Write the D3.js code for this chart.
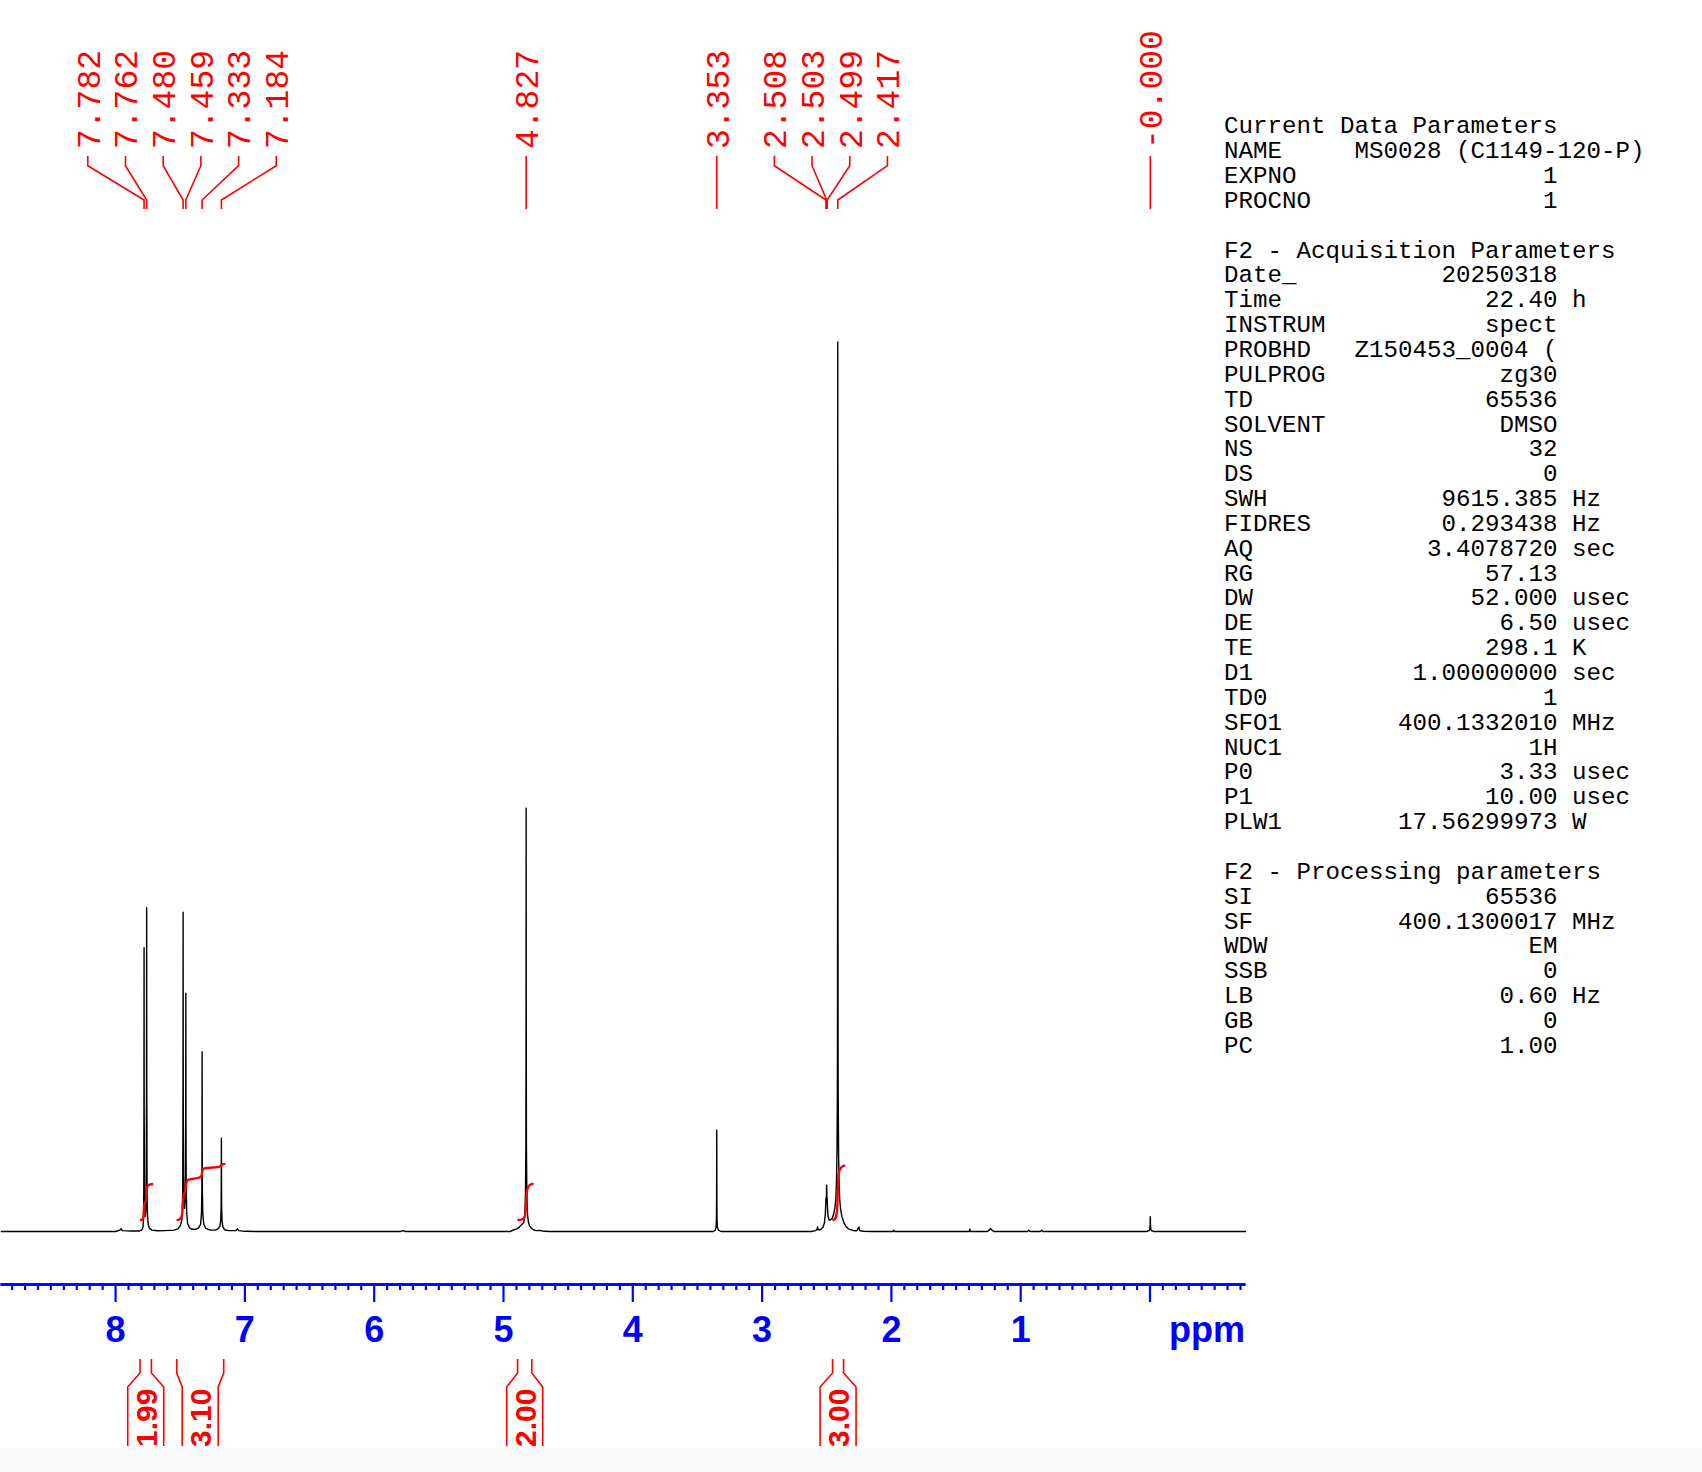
<!DOCTYPE html>
<html><head><meta charset="utf-8">
<script src="https://cdn.jsdelivr.net/npm/d3@7"></script>
<style>html,body{margin:0;padding:0;background:#fff;overflow:hidden;} svg{display:block;}</style>
</head><body>
<script>
// ---------- DATA ----------
// spectrum vertices: [ppm, intensity in % of the tallest peak]
const specPoints = [
  [8.89,0],[8.00,0],[7.97,0.15],[7.96,0.3],[7.95,0.1],[7.88,0.05],
  [7.82,0.05],[7.80,0.15],[7.79,0.5],[7.786,1.6],[7.784,5],[7.783,13],[7.782,31.9],[7.781,14],[7.779,5],[7.776,2.2],
  [7.772,1.7],[7.768,2.5],[7.765,6],[7.763,16],[7.762,36.4],[7.761,17],[7.759,6],[7.756,2],[7.75,0.8],[7.74,0.35],
  [7.72,0.15],[7.68,0.08],[7.62,0.1],[7.55,0.15],[7.52,0.3],[7.50,0.7],[7.49,1.3],[7.486,2.2],[7.483,5],[7.481,15],
  [7.480,35.9],[7.479,16],[7.477,6],[7.473,3],[7.469,2.6],[7.465,3.5],[7.462,7],[7.460,13],[7.459,26.8],[7.458,13],
  [7.456,5],[7.452,2],[7.445,0.9],[7.43,0.4],[7.41,0.25],[7.38,0.25],[7.36,0.4],[7.345,0.8],[7.338,2],[7.335,4.5],
  [7.334,9],[7.333,20.2],[7.332,9],[7.331,4.5],[7.328,2],[7.32,0.8],[7.305,0.35],[7.27,0.15],[7.23,0.15],[7.21,0.3],
  [7.195,0.6],[7.189,1.3],[7.186,2.8],[7.185,5],[7.184,10.5],[7.183,5],[7.182,2.8],[7.179,1.2],[7.172,0.5],[7.16,0.2],
  [7.13,0.1],[7.07,0.1],[7.06,0.3],[7.05,0.1],[7.00,0.02],[6.90,0],
  [5.80,0],[5.78,0.1],[5.76,0],
  [4.95,0],[4.92,0.2],[4.90,0.3],[4.88,0.5],[4.86,0.8],[4.845,1.0],[4.837,2],[4.832,4.5],[4.829,10],[4.828,20],
  [4.827,47.6],[4.826,21],[4.825,10],[4.822,4.5],[4.817,2],[4.81,1.1],[4.80,0.6],[4.785,0.35],[4.77,0.2],[4.75,0.1],
  [4.72,0.12],[4.70,0.05],[4.65,0],
  [3.38,0],[3.365,0.15],[3.358,0.5],[3.355,1.5],[3.354,4],[3.353,11.4],[3.352,4],[3.351,1.5],[3.348,0.5],[3.34,0.15],[3.32,0],
  [2.62,0],[2.59,0.1],[2.578,0.2],[2.573,0.5],[2.568,0.2],[2.55,0.2],[2.53,0.5],[2.52,1.0],[2.513,2],[2.509,3.6],
  [2.5075,3.8],[2.5055,3.3],[2.504,4.6],[2.503,5.2],[2.502,4.6],[2.5005,3.6],[2.499,3.8],[2.497,2.8],[2.493,1.8],
  [2.485,1.3],[2.475,1.3],[2.46,1.5],[2.45,1.9],[2.44,2.6],[2.432,3.6],[2.427,5.5],[2.423,9],[2.420,16],[2.419,25],
  [2.418,45],[2.417,100],[2.416,45],[2.415,25],[2.414,16],[2.411,9],[2.407,5.5],[2.402,3.6],[2.395,2.5],[2.385,1.7],
  [2.37,1.0],[2.355,0.6],[2.335,0.3],[2.30,0.12],[2.27,0.08],[2.258,0.4],[2.253,0.5],[2.248,0.1],[2.22,0.03],[2.15,0],
  [1.99,0],[1.985,0.15],[1.98,0],[1.40,0],[1.396,0.25],[1.39,0],[1.26,0],[1.245,0.15],[1.235,0.35],[1.225,0.15],[1.21,0],
  [0.95,0],[0.94,0.15],[0.93,0],[0.85,0],[0.84,0.15],[0.83,0],
  [0.03,0],[0.01,0.1],[0.004,0.25],[0.002,0.6],[0.001,1.0],[0.0,1.65],[-0.001,1.0],[-0.002,0.6],[-0.004,0.25],[-0.01,0.1],[-0.03,0],
  [-0.74,0]
];

// peak pick labels (groups share a fan of connectors)
const peakGroups = [
  [7.782,7.762,7.480,7.459,7.333,7.184],
  [4.827],
  [3.353],
  [2.508,2.503,2.499,2.417],
  [0.000]
];
const peakLabelText = [
  ["7.782","7.762","7.480","7.459","7.333","7.184"],
  ["4.827"],
  ["3.353"],
  ["2.508","2.503","2.499","2.417"],
  ["-0.000"]
];

// integrals
const integralRanges = [[7.807,7.719],[7.523,7.160],[4.887,4.777],[2.451,2.366]];
const integralValues = ["1.99","3.10","2.00","3.00"];
const integral1 = [[7.807,0],[7.800,0.02],[7.790,0.08],[7.786,0.2],[7.783,0.55],[7.780,0.85],[7.776,0.95],[7.768,1.05],[7.764,1.3],[7.761,1.7],[7.757,1.85],[7.750,1.92],[7.735,1.96],[7.719,1.99]];
const integral2 = [[7.523,0],[7.51,0.03],[7.495,0.15],[7.486,0.45],[7.481,1.0],[7.475,1.35],[7.465,1.55],[7.459,1.9],[7.452,2.1],[7.441,2.22],[7.40,2.28],[7.35,2.35],[7.338,2.45],[7.333,2.65],[7.326,2.8],[7.312,2.86],[7.25,2.9],[7.195,2.95],[7.184,3.03],[7.175,3.07],[7.160,3.10]];
const integral3 = [[4.887,0],[4.86,0.03],[4.843,0.1],[4.833,0.4],[4.828,0.9],[4.825,1.3],[4.818,1.7],[4.804,1.9],[4.790,1.97],[4.777,2.0]];
const integral4 = [[2.451,0],[2.44,0.05],[2.43,0.2],[2.422,0.6],[2.418,1.3],[2.415,2.1],[2.41,2.55],[2.40,2.8],[2.385,2.93],[2.366,3.0]];
const integralCurves = [integral1, integral2, integral3, integral4];

// axis
const majorTicks = [0,1,2,3,4,5,6,7,8];
const tickLabels = ["","1","2","3","4","5","6","7","8"];
const minorTicks = d3.range(-7, 89).filter(i => i % 10 !== 0).map(i => i / 10);
const axisUnit = "ppm";

// parameter block
const paramNames = ["Current Data Parameters","NAME","EXPNO","PROCNO","",
  "F2 - Acquisition Parameters","Date_","Time","INSTRUM","PROBHD","PULPROG","TD","SOLVENT","NS","DS","SWH","FIDRES","AQ","RG","DW","DE","TE","D1","TD0","SFO1","NUC1","P0","P1","PLW1","",
  "F2 - Processing parameters","SI","SF","WDW","SSB","LB","GB","PC"];
const paramValues = ["","MS0028 (C1149-120-P)","1","1","",
  "","20250318","22.40","spect","Z150453_0004 (","zg30","65536","DMSO","32","0","9615.385","0.293438","3.4078720","57.13","52.000","6.50","298.1","1.00000000","1","400.1332010","1H","3.33","10.00","17.56299973","",
  "","65536","400.1300017","EM","0","0.60","0","1.00"];
const paramUnits = ["","","","","",
  "","","h","","","","","","","","Hz","Hz","sec","","usec","usec","K","sec","","MHz","","usec","usec","W","",
  "","","MHz","","","Hz","",""];

// ---------- DRAWING ----------
const W = 1702, H = 1472;
const svg = d3.select("body").append("svg").attr("width", W).attr("height", H);
svg.append("rect").attr("width", W).attr("height", H).attr("fill", "#fff");
svg.append("rect").attr("x", 0).attr("y", 1448).attr("width", W).attr("height", H - 1448).attr("fill", "#fafafa");

const x = d3.scaleLinear().domain([8.890, -0.7386]).range([0, 1245]);
const y = d3.scaleLinear().domain([0, 100]).range([1231.5, 342]);
const yInt = d3.scaleLinear().domain([0, 1]).range([1220, 1201.9]);

// spectrum
svg.append("path")
  .datum(specPoints)
  .attr("d", d3.line().x(d => x(d[0]) + 0.8).y(d => y(d[1])))
  .attr("fill", "none").attr("stroke", "#000").attr("stroke-width", 1.4)
  .attr("stroke-linejoin", "round");

// integral curves
svg.selectAll("path.intc").data(integralCurves).join("path")
  .attr("class", "intc")
  .attr("d", d3.line().curve(d3.curveMonotoneX).x(d => x(d[0]) + 0.8).y(d => yInt(d[1])))
  .attr("fill", "none").attr("stroke", "#ff0000").attr("stroke-width", 2.4)
  .attr("stroke-linecap", "round");

// axis
const axisG = svg.append("g").attr("transform", "translate(0,1284)").style("color", "#0000ff");
const minorAxis = d3.axisBottom(x).tickValues(minorTicks).tickSize(6).tickSizeOuter(0).tickFormat("");
axisG.append("g").call(minorAxis);
const majorAxis = d3.axisBottom(x).tickValues(majorTicks).tickSize(18).tickSizeOuter(0).tickPadding(14)
  .tickFormat((d, i) => tickLabels[i]);
axisG.append("g").call(majorAxis);
axisG.selectAll("path.domain").attr("stroke-width", 2.4);
axisG.selectAll(".tick line").attr("stroke-width", 2.2);
axisG.selectAll(".tick text")
  .attr("font-family", "'Liberation Sans', Arial, sans-serif")
  .attr("font-weight", "bold").attr("font-size", 36).attr("fill", "#0000ff");
svg.append("text").text(axisUnit)
  .attr("x", 1245).attr("y", 1342).attr("text-anchor", "end")
  .attr("font-family", "'Liberation Sans', Arial, sans-serif")
  .attr("font-weight", "bold").attr("font-size", 36).attr("fill", "#0000ff");

// integral labels under the axis
const intG = svg.append("g");
integralRanges.forEach((r, i) => {
  const xa = x(r[0]), xb = x(r[1]), c = (xa + xb) / 2, bl = c - 18, br = c + 18;
  intG.append("path")
    .attr("d", `M${xa},1359V1373L${bl},1387V1446M${xb},1359V1373L${br},1387V1446`)
    .attr("fill", "none").attr("stroke", "#ff0000").attr("stroke-width", 1.6);
  intG.append("text").text(integralValues[i])
    .attr("transform", `translate(${c},1447) rotate(-90)`)
    .attr("dy", "0.36em")
    .attr("font-family", "'Liberation Sans', Arial, sans-serif")
    .attr("font-weight", "bold").attr("font-size", 30).attr("fill", "#ff0000");
});

// peak labels on top
const pkG = svg.append("g");
const spacing = 37.7;
peakGroups.forEach((g, gi) => {
  const px = g.map(p => x(p) + 0.8);
  const m = d3.mean(px) + (g.length > 1 ? 1.5 : 0);
  g.forEach((p, i) => {
    const lx = g.length === 1 ? px[i] : m + (i - (g.length - 1) / 2) * spacing;
    const d = g.length === 1
      ? `M${px[i]},156V209`
      : `M${lx},156V165.7L${px[i]},200V209`;
    pkG.append("path").attr("d", d)
      .attr("fill", "none").attr("stroke", "#ff0000").attr("stroke-width", 1.6);
    pkG.append("text").text(peakLabelText[gi][i])
      .attr("transform", `translate(${lx + 1},149) rotate(-90)`)
      .attr("dy", "0.33em")
      .attr("font-family", "'Liberation Mono', 'DejaVu Sans Mono', monospace")
      .attr("font-size", 33).attr("fill", "#ff0000");
  });
});

// parameter block
const x0 = 1224, cw = 14.5, fs = cw / 0.6001, lh = 24.85, base0 = 133.3;
const parG = svg.append("g")
  .attr("font-family", "'Liberation Mono', 'DejaVu Sans Mono', monospace")
  .attr("font-size", fs).attr("fill", "#000");
paramNames.forEach((n, i) => {
  const yy = base0 + i * lh;
  if (n) parG.append("text").attr("x", x0).attr("y", yy).text(n);
  const v = paramValues[i];
  if (v) {
    const startCol = Math.max(9, 23 - v.length);
    parG.append("text").attr("x", x0 + startCol * cw).attr("y", yy).style("white-space", "pre").text(v);
  }
  const u = paramUnits[i];
  if (u) parG.append("text").attr("x", x0 + 24 * cw).attr("y", yy).text(u);
});
</script>
</body></html>
